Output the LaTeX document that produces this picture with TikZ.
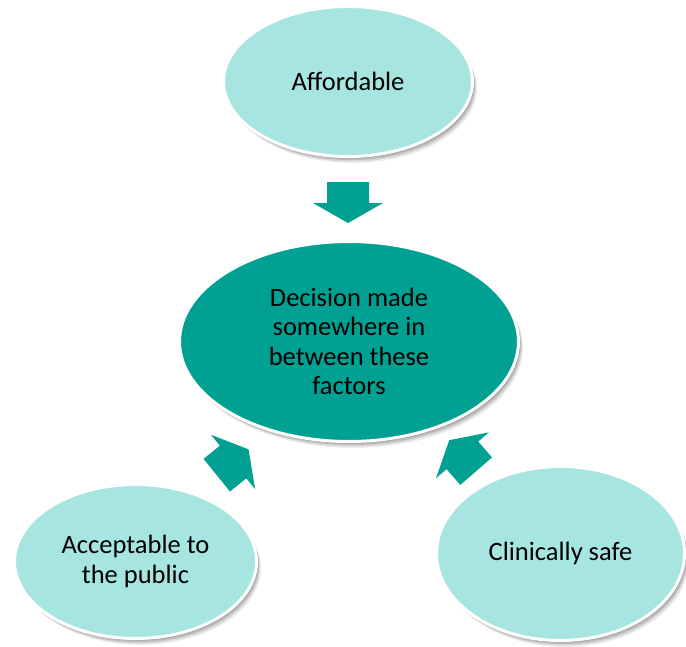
\documentclass[tikz,border=0pt]{standalone}
\usepackage{fontspec}
\setmainfont{Carlito}
\usetikzlibrary{shapes.geometric,shadows}
\definecolor{lightteal}{RGB}{167,229,225}
\definecolor{darkteal}{RGB}{0,161,146}
\tikzset{
  softshadow/.style={
    general shadow={shadow xshift=1.5pt, shadow yshift=-2pt, opacity=0.14, fill=black},
    general shadow={shadow xshift=2.5pt, shadow yshift=-3.5pt, opacity=0.12, fill=black},
    general shadow={shadow xshift=3.5pt, shadow yshift=-5pt, opacity=0.10, fill=black},
    general shadow={shadow xshift=4.5pt, shadow yshift=-6.5pt, opacity=0.07, fill=black}},
  oval/.style={ellipse, draw=white, line width=3pt, inner sep=0pt,
    align=center, text=black,
    font=\fontsize{26.5}{29.5}\selectfont, softshadow},
  factor/.style={oval, fill=lightteal},
  decision/.style={oval, fill=darkteal},
  blockarrow/.style={fill=darkteal, draw=none}
}
\begin{document}
\begin{tikzpicture}[x=1pt,y=-1pt]
\useasboundingbox (0,0) rectangle (686,646);
\node[factor, minimum width=249pt, minimum height=150pt] (afford) at (348,81.5) {Affordable};
\node[decision, minimum width=339pt, minimum height=200pt] (decision) at (349,341.5)
  {Decision made\\somewhere in\\between these\\factors};
\node[factor, minimum width=242pt, minimum height=154pt] (public) at (135.5,561.5)
  {Acceptable to\\the public};
\node[factor, minimum width=248pt, minimum height=174pt] (safe) at (560.5,553.5)
  {Clinically safe};
\coordinate (atop) at (348,202.5);
\coordinate (aleft) at (232.7,462.3);
\coordinate (aright) at (462.7,455.7);
\foreach \c/\r in {atop/-90, aleft/39, aright/131}{
  \fill[blockarrow, shift={(\c)}, rotate=\r]
    (-20.5,-21) -- (0.5,-21) -- (0.5,-35) -- (20.5,0) -- (0.5,35) -- (0.5,21) -- (-20.5,21) -- cycle;
}
\end{tikzpicture}
\end{document}
